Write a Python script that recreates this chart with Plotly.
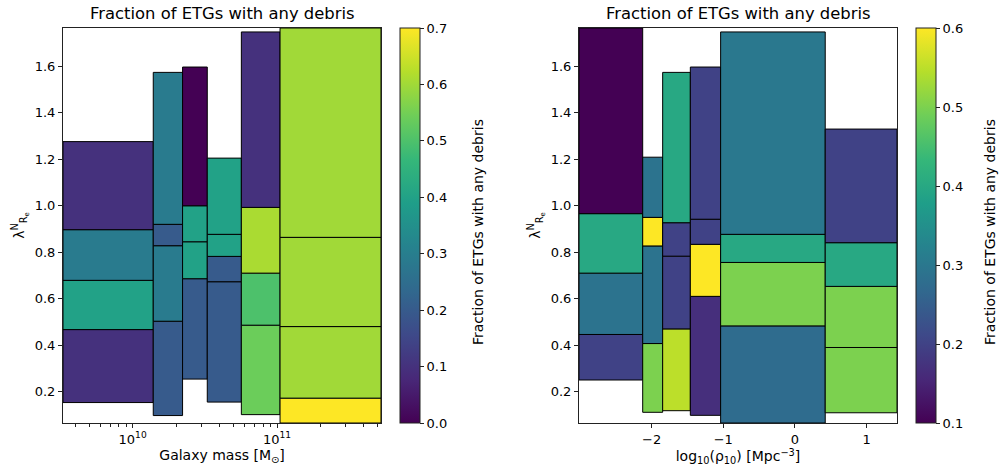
import plotly.graph_objects as go
from plotly.colors import sample_colorscale

# Galaxy-mass panel: log10 mass bin edges, lambda bin edges per mass bin, debris fraction per cell
mass_edges_log = [9.518, 10.143, 10.346, 10.517, 10.753, 11.021, 11.72]
mass_lambda_edges = [
    [0.153, 0.467, 0.679, 0.897, 1.276],
    [0.097, 0.503, 0.828, 0.920, 1.574],
    [0.254, 0.686, 0.845, 1.000, 1.597],
    [0.155, 0.673, 0.782, 0.877, 1.205],
    [0.101, 0.486, 0.710, 0.993, 1.748],
    [0.065, 0.172, 0.480, 0.864, 1.765],
]
mass_fraction = [
    [0.10, 0.40, 0.29, 0.10],
    [0.20, 0.29, 0.20, 0.29],
    [0.20, 0.40, 0.40, 0.00],
    [0.20, 0.20, 0.40, 0.40],
    [0.54, 0.50, 0.61, 0.10],
    [0.70, 0.60, 0.60, 0.60],
]
mass_crange = [0.0, 0.7]

# Environment panel: log10(rho10) bin edges, lambda bin edges per density bin, debris fraction per cell
dens_edges = [-3.014, -2.125, -1.846, -1.460, -1.037, 0.423, 1.425]
dens_lambda_edges = [
    [0.250, 0.446, 0.710, 0.966, 1.765],
    [0.111, 0.407, 0.827, 0.950, 1.209],
    [0.118, 0.470, 0.783, 0.927, 1.574],
    [0.098, 0.610, 0.834, 0.942, 1.597],
    [0.065, 0.483, 0.756, 0.877, 1.748],
    [0.109, 0.390, 0.653, 0.841, 1.330],
]
dens_fraction = [
    [0.20, 0.29, 0.40, 0.10],
    [0.50, 0.29, 0.60, 0.29],
    [0.55, 0.20, 0.20, 0.40],
    [0.167, 0.60, 0.20, 0.20],
    [0.275, 0.50, 0.40, 0.30],
    [0.50, 0.50, 0.40, 0.20],
]
dens_crange = [0.1, 0.6]

lambda_range = [0.065, 1.765]
lambda_ticks = [0.2, 0.4, 0.6, 0.8, 1.0, 1.2, 1.4, 1.6]
mass_major = [1e10, 1e11]
mass_major_text = ["10<sup>10</sup>", "10<sup>11</sup>"]
mass_minor = [m * 10 ** e for e in (9, 10, 11) for m in range(2, 10)]
dens_ticks = [-2, -1, 0, 1]
panel_title = "Fraction of ETGs with any debris"
cbar_label = "Fraction of ETGs with any debris"

FONT = "DejaVu Sans"
TICK = 13
LABEL = 14
TITLE = 16.4
fig = go.Figure()


def add_cells(edges, lam_edges, fracs, crange, xref, yref, log_x):
    lo, hi = crange
    for i in range(len(edges) - 1):
        x0, x1 = edges[i], edges[i + 1]
        if log_x:
            x0, x1 = 10 ** x0, 10 ** x1
        for j, f in enumerate(fracs[i]):
            y0, y1 = lam_edges[i][j], lam_edges[i][j + 1]
            col = sample_colorscale("Viridis", [(f - lo) / (hi - lo)])[0]
            fig.add_trace(go.Scatter(
                x=[x0, x1, x1, x0, x0], y=[y0, y0, y1, y1, y0],
                mode="lines", fill="toself", fillcolor=col,
                line=dict(color="black", width=1),
                xaxis=xref, yaxis=yref, showlegend=False,
                hoverinfo="text", text=f"{f:.2f}",
            ))


add_cells(mass_edges_log, mass_lambda_edges, mass_fraction, mass_crange, "x", "y", True)
add_cells(dens_edges, dens_lambda_edges, dens_fraction, dens_crange, "x2", "y2", False)

# invisible markers carrying the two colour bars
fig.add_trace(go.Scatter(x=[10 ** 10.5], y=[1.0], mode="markers", xaxis="x", yaxis="y",
                         marker=dict(size=0.1, opacity=0, color=[0.0], coloraxis="coloraxis"),
                         showlegend=False, hoverinfo="skip"))
fig.add_trace(go.Scatter(x=[0.0], y=[1.0], mode="markers", xaxis="x2", yaxis="y2",
                         marker=dict(size=0.1, opacity=0, color=[0.1], coloraxis="coloraxis2"),
                         showlegend=False, hoverinfo="skip"))

W, H = 1002, 471
ybot, ytop = (H - 423) / H, (H - 28) / H
axis_common = dict(showline=True, mirror=True, linecolor="#222", linewidth=1,
                   ticks="outside", ticklen=4, tickcolor="#222", showgrid=False, zeroline=False,
                   tickfont=dict(family=FONT, size=TICK, color="black"))
cbar_common = dict(thickness=20, len=ytop - ybot, lenmode="fraction", y=ybot, yanchor="bottom",
                   xanchor="left", xpad=0, ypad=0, outlinecolor="#222", outlinewidth=1,
                   ticks="outside", ticklen=4, tickcolor="#222",
                   tickfont=dict(family=FONT, size=TICK, color="black"))

fig.update_layout(
    width=W, height=H, margin=dict(l=0, r=0, t=0, b=0),
    paper_bgcolor="white", plot_bgcolor="white",
    font=dict(family=FONT, size=TICK, color="black"),
    xaxis=dict(domain=[63 / W, 381 / W], type="log", range=[mass_edges_log[0], mass_edges_log[-1]],
               tickmode="array", tickvals=mass_major, ticktext=mass_major_text,
               minor=dict(tickmode="array", tickvals=mass_minor, ticks="outside", ticklen=2.5,
                          tickcolor="#222", showgrid=False),
               title=dict(text="Galaxy mass [M<sub>⊙</sub>]", standoff=4,
                          font=dict(family=FONT, size=LABEL)),
               anchor="y", **axis_common),
    yaxis=dict(domain=[ybot, ytop], range=lambda_range, tickmode="array", tickvals=lambda_ticks,
               tickformat=".1f", anchor="x",
               title=dict(text="λ<sup>N</sup><sub>R<sub>e</sub></sub>", standoff=6,
                          font=dict(family=FONT, size=LABEL)),
               **axis_common),
    xaxis2=dict(domain=[579 / W, 897 / W], range=[dens_edges[0], dens_edges[-1]],
                tickmode="array", tickvals=dens_ticks, anchor="y2",
                title=dict(text="log<sub>10</sub>(ρ<sub>10</sub>) [Mpc<sup>−3</sup>]", standoff=4,
                           font=dict(family=FONT, size=LABEL)),
                **axis_common),
    yaxis2=dict(domain=[ybot, ytop], range=lambda_range, tickmode="array", tickvals=lambda_ticks,
                tickformat=".1f", anchor="x2",
                title=dict(text="λ<sup>N</sup><sub>R<sub>e</sub></sub>", standoff=6,
                           font=dict(family=FONT, size=LABEL)),
                **axis_common),
    coloraxis=dict(colorscale="Viridis", cmin=mass_crange[0], cmax=mass_crange[1],
                   colorbar=dict(x=400 / W, tickvals=[0, 0.1, 0.2, 0.3, 0.4, 0.5, 0.6, 0.7],
                                 tickformat=".1f", **cbar_common)),
    coloraxis2=dict(colorscale="Viridis", cmin=dens_crange[0], cmax=dens_crange[1],
                    colorbar=dict(x=916 / W, tickvals=[0.1, 0.2, 0.3, 0.4, 0.5, 0.6],
                                  tickformat=".1f", **cbar_common)),
)

# panel titles
for cx in ((63 + 381) / 2, (579 + 897) / 2):
    fig.add_annotation(text=panel_title, x=cx / W, y=(H - 14) / H, xref="paper", yref="paper",
                       xanchor="center", yanchor="middle", showarrow=False,
                       font=dict(family=FONT, size=TITLE))

# colour-bar labels, rotated alongside each bar
for lx in (478, 990):
    fig.add_annotation(text=cbar_label, x=lx / W, y=(H - 232) / H, xref="paper", yref="paper",
                       xanchor="center", yanchor="middle", textangle=-90, showarrow=False,
                       font=dict(family=FONT, size=LABEL))

fig.write_html("out.html")
